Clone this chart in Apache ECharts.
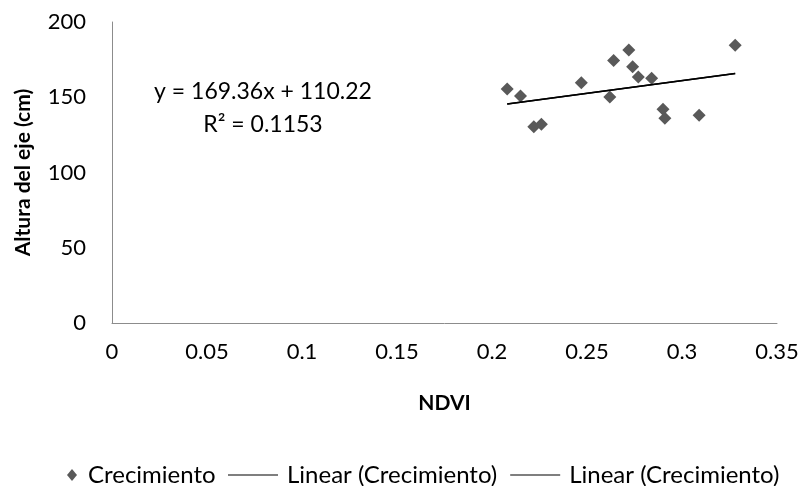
<!DOCTYPE html>
<html>
<head>
<meta charset="utf-8">
<script src="https://cdn.jsdelivr.net/npm/echarts@6/dist/echarts.min.js"></script>
<style>
  html, body { margin: 0; padding: 0; background: #fff; }
  #main { width: 806px; height: 486px; }
</style>
</head>
<body>
<div id="main"></div>
<script>
// NDVI vs altura
let ndvi = [0.208, 0.215, 0.222, 0.226, 0.247, 0.262, 0.264, 0.272, 0.274, 0.277, 0.284, 0.290, 0.291, 0.309, 0.328];
let altura = [155.5, 150.8, 130.4, 132.0, 159.7, 150.2, 174.5, 181.4, 170.3, 163.5, 162.6, 142.0, 136.0, 138.0, 184.5];
let trendSlope = 169.36;
let trendIntercept = 110.22;
let trendR2 = '0.1153';
let xTicks = [0, 0.35, 0.05];
let yTicks = [0, 200, 50];

let font = 'Lato';
let puntos = ndvi.map(function (x, i) { return [x, altura[i]]; });
let xMin = Math.min.apply(null, ndvi), xMax = Math.max.apply(null, ndvi);
let tendencia = [[xMin, trendSlope * xMin + trendIntercept], [xMax, trendSlope * xMax + trendIntercept]];

let myChart = echarts.init(document.getElementById('main'));

let option = {
    animation: false,
    textStyle: { fontFamily: font },
    title: {
        text: 'y = ' + trendSlope + 'x + ' + trendIntercept + '\nR² = ' + trendR2,
        left: 258,
        top: 70,
        textAlign: 'center',
        textStyle: { fontFamily: font, fontSize: 23, fontWeight: 'normal', color: '#000', lineHeight: 33 }
    },
    grid: { left: 112, right: 29, top: 22, bottom: 163 },
    legend: [
        {
            data: [{ name: 'Crecimiento', icon: 'diamond' }],
            left: 62, top: 458,
            itemWidth: 10, itemHeight: 12, symbolKeepAspect: false,
            textStyle: { fontFamily: font, fontSize: 24, color: '#000', padding: [0, 0, 0, 6] }
        },
        {
            data: [
                { name: 'Linear (Crecimiento)', icon: 'rect' },
                { name: 'Linear (Crecimiento) ', icon: 'rect' }
            ],
            left: 223, top: 458,
            itemWidth: 50, itemHeight: 1, itemGap: 13,
            textStyle: { fontFamily: font, fontSize: 24, color: '#000', padding: [0, 0, 0, 4] }
        }
    ],
    xAxis: {
        type: 'value',
        min: xTicks[0], max: xTicks[1], interval: xTicks[2],
        name: 'NDVI', nameLocation: 'middle', nameGap: 70,
        nameTextStyle: { fontFamily: font, fontSize: 21, fontWeight: 'bold', color: '#000' },
        axisLine: { lineStyle: { color: '#8c8c8c', width: 1 } },
        axisTick: { show: false },
        splitLine: { show: false },
        axisLabel: { fontFamily: font, fontSize: 22, color: '#000', margin: 18 }
    },
    yAxis: {
        type: 'value',
        min: yTicks[0], max: yTicks[1], interval: yTicks[2],
        name: 'Altura del eje (cm)', nameLocation: 'middle', nameGap: 78,
        nameTextStyle: { fontFamily: font, fontSize: 21, fontWeight: 'bold', color: '#000' },
        axisLine: { show: true, lineStyle: { color: '#8c8c8c', width: 1 } },
        axisTick: { show: false },
        splitLine: { show: false },
        axisLabel: { fontFamily: font, fontSize: 22, color: '#000', margin: 26 }
    },
    series: [
        {
            name: 'Crecimiento',
            type: 'scatter',
            symbol: 'diamond',
            symbolSize: 13,
            itemStyle: { color: '#595959', opacity: 1 },
            data: puntos,
            z: 3
        },
        {
            name: 'Linear (Crecimiento)',
            type: 'line',
            symbol: 'none',
            itemStyle: { color: '#000' },
            lineStyle: { color: '#000', width: 1.5 },
            data: tendencia,
            z: 4
        },
        {
            name: 'Linear (Crecimiento) ',
            type: 'line',
            symbol: 'none',
            itemStyle: { color: '#000' },
            lineStyle: { color: '#000', width: 1.5 },
            data: tendencia,
            z: 4
        }
    ]
};

myChart.setOption(option);
window.addEventListener('resize', function () {
    myChart.resize();
});
</script>
</body>
</html>
